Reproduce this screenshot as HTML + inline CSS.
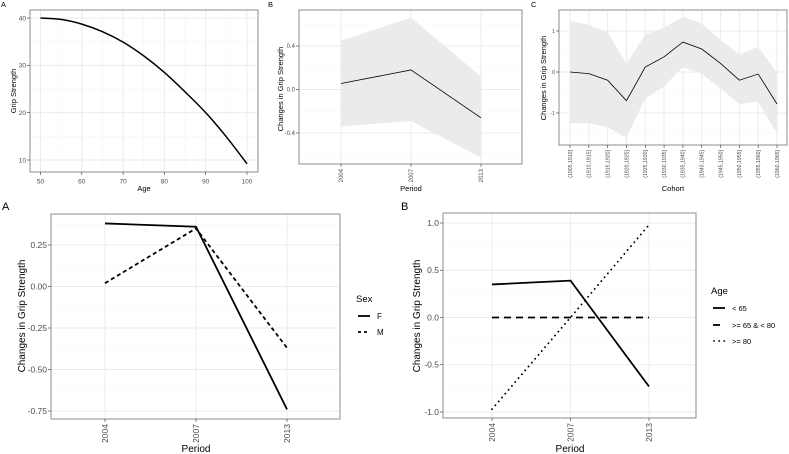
<!DOCTYPE html>
<html><head><meta charset="utf-8">
<style>
html,body{margin:0;padding:0;background:#fff;}
svg{display:block;font-family:"Liberation Sans",sans-serif;}
</style></head>
<body>
<svg id="fig" width="789" height="454" viewBox="0 0 789 454"></svg>
<script>
// ---- data ----
const ageX = [50,55,60,65,70,75,80,85,90,95,100];
const ageGrip = [40,39.7,38.7,37.1,34.9,32.0,28.5,24.4,20.0,14.9,9.2];
const ageTicksX = [50,60,70,80,90,100];
const ageTicksY = [10,20,30,40];

const periods = ["2004","2007","2013"];
const periodMean = [0.055,0.18,-0.26];
const periodLow = [-0.34,-0.29,-0.625];
const periodHigh = [0.45,0.66,0.12];
const periodTicksY = [-0.4,0.0,0.4];
const periodTickLabels = ["-0.4","0.0","0.4"];

const cohorts = ["(1905,1910]","(1910,1915]","(1915,1920]","(1920,1925]","(1925,1930]","(1930,1935]","(1935,1940]","(1940,1945]","(1945,1950]","(1950,1955]","(1955,1960]","(1960,1965]"];
const cohortMean = [0,-0.04,-0.2,-0.7,0.12,0.37,0.73,0.56,0.21,-0.2,-0.05,-0.78];
const cohortHigh = [1.25,1.15,0.97,0.2,0.92,1.08,1.35,1.18,0.78,0.42,0.62,-0.02];
const cohortLow = [-1.25,-1.25,-1.35,-1.6,-0.65,-0.35,0.12,-0.05,-0.4,-0.78,-0.73,-1.5];
const cohortTicksY = [-1,0,1];

const sexF = [0.38,0.36,-0.74];
const sexM = [0.02,0.35,-0.37];
const sexTicksY = [-0.75,-0.5,-0.25,0,0.25];
const sexTickLabels = ["-0.75","-0.50","-0.25","0.00","0.25"];

const ageLt65 = [0.35,0.39,-0.73];
const age65to80 = [0,0,0];
const ageGe80 = [-0.97,0.0,0.98];
const ageGrpTicksY = [-1,-0.5,0,0.5,1];
const ageGrpTickLabels = ["-1.0","-0.5","0.0","0.5","1.0"];

// ---- helpers ----
const NS="http://www.w3.org/2000/svg";
const svg=document.getElementById('fig');
function mk(tag,attrs,parent){const e=document.createElementNS(NS,tag);for(const k in attrs)e.setAttribute(k,attrs[k]);(parent||svg).appendChild(e);return e;}
function lin(d0,d1,r0,r1){return v=>r0+(v-d0)/(d1-d0)*(r1-r0);}
function txt(s,x,y,size,opts,parent){const t=mk('text',Object.assign({x:x,y:y,'font-size':size,fill:'#000'},opts||{}),parent);t.textContent=s;return t;}

function panel(name,box,xs,ys,xticks,xlabels,yticks,ylabels,xminor,yminor,fs,rot){
  const g=mk('g',{});
  
  
  const [x0,y0,x1,y1]=box;
  (xminor||[]).forEach(v=>mk('line',{x1:xs(v),x2:xs(v),y1:y0,y2:y1,stroke:'#f5f5f5','stroke-width':0.6},g));
  (yminor||[]).forEach(v=>mk('line',{x1:x0,x2:x1,y1:ys(v),y2:ys(v),stroke:'#f5f5f5','stroke-width':0.6},g));
  xticks.forEach(v=>mk('line',{x1:xs(v),x2:xs(v),y1:y0,y2:y1,stroke:'#ebebeb','stroke-width':1},g));
  yticks.forEach(v=>mk('line',{x1:x0,x2:x1,y1:ys(v),y2:ys(v),stroke:'#ebebeb','stroke-width':1},g));
  const ax=mk('g',{});
  
  
  xticks.forEach((v,i)=>{
    mk('line',{x1:xs(v),x2:xs(v),y1:y1,y2:y1+3,stroke:'#333','stroke-width':0.6},ax);
    if(rot){txt(xlabels[i],xs(v)+fs*0.35,y1+5,fs,{fill:'#4d4d4d','text-anchor':'end',transform:`rotate(-90 ${xs(v)+fs*0.35} ${y1+5})`},ax);}
    else txt(xlabels[i],xs(v),y1+5+fs,fs,{fill:'#4d4d4d','text-anchor':'middle'},ax);
  });
  yticks.forEach((v,i)=>{
    mk('line',{x1:x0-3,x2:x0,y1:ys(v),y2:ys(v),stroke:'#333','stroke-width':0.6},ax);
    txt(ylabels[i],x0-4,ys(v)+fs*0.35,fs,{fill:'#4d4d4d','text-anchor':'end'},ax);
  });
  return {g,ax,box};
}
function border(p){const [x0,y0,x1,y1]=p.box;mk('rect',{x:x0,y:y0,width:x1-x0,height:y1-y0,fill:'none',stroke:'#8c8c8c','stroke-width':1},p.g);}
function poly(xsArr,ysArr,xs,ys,attrs,parent,name){
  const d=xsArr.map((x,i)=>(i?'L':'M')+xs(x).toFixed(2)+','+ys(ysArr[i]).toFixed(2)).join('');
  const p=mk('path',Object.assign({d:d,fill:'none',stroke:'#000'},attrs),parent);
  
  
  return p;
}
function smooth(xsArr,ysArr,xs,ys,attrs,parent,name){
  const P=xsArr.map((x,i)=>[xs(x),ys(ysArr[i])]);
  let d='M'+P[0][0].toFixed(2)+','+P[0][1].toFixed(2);
  for(let i=0;i<P.length-1;i++){
    const p0=P[i-1]||P[i],p1=P[i],p2=P[i+1],p3=P[i+2]||p2;
    const c1=[p1[0]+(p2[0]-p0[0])/6,p1[1]+(p2[1]-p0[1])/6];
    const c2=[p2[0]-(p3[0]-p1[0])/6,p2[1]-(p3[1]-p1[1])/6];
    d+=`C${c1[0].toFixed(2)},${c1[1].toFixed(2)} ${c2[0].toFixed(2)},${c2[1].toFixed(2)} ${p2[0].toFixed(2)},${p2[1].toFixed(2)}`;
  }
  const p=mk('path',Object.assign({d:d,fill:'none',stroke:'#000'},attrs),parent);
  
  
  return p;
}
function band(idx,lo,hi,xs,ys,parent,name){
  let d='';idx.forEach((x,i)=>d+=(i?'L':'M')+xs(x)+','+ys(hi[i]));
  for(let i=idx.length-1;i>=0;i--)d+='L'+xs(idx[i])+','+ys(lo[i]);
  const p=mk('path',{d:d+'Z',fill:'#ebebeb',stroke:'none'},parent);
  
  
}
function axTitle(s,x,y,size,rot,name){
  const t=txt(s,x,y,size,rot?{'text-anchor':'middle',transform:`rotate(-90 ${x} ${y})`}:{'text-anchor':'middle'});
  
  
}
function label(s,x,y,size,name){const t=txt(s,x,y,size,{});}

// ---- Top A ----
{
  const box=[30,10,258,172];
  const xs=lin(50,100,40.5,247), ys=lin(10,40,160,18);
  const p=panel('age-panel',box,xs,ys,ageTicksX,ageTicksX.map(String),ageTicksY,ageTicksY.map(String),[55,65,75,85,95],[15,25,35],6.5,false);
  smooth(ageX,ageGrip,xs,ys,{'stroke-width':1.5},p.g,'grip-curve');
  border(p);
  axTitle('Age',144,191,7.5,false,'x-axis-title-age');
  axTitle('Grip Strength',16,91,7.5,true,'y-axis-title-grip');
  label('A',1,7,7.5,'panel-label-a-top');
}
// ---- Top B ----
{
  const box=[299,10,522,164];
  const idx=[0,1,2];
  const xs=lin(0,2,341,481), ys=lin(-0.4,0.4,133,46);
  const p=panel('period-panel',box,xs,ys,idx,periods,periodTicksY,periodTickLabels,[],[-0.6,-0.2,0.2,0.6],6,true);
  band(idx,periodLow,periodHigh,xs,ys,p.g,'period-ci-band');
  poly(idx,periodMean,xs,ys,{'stroke-width':0.8},p.g,'period-line');
  border(p);
  axTitle('Period',411,191,7.5,false,'x-axis-title-period');
  axTitle('Changes in Grip Strength',283,89,7.5,true,'y-axis-title-period');
  label('B',268,7,7.5,'panel-label-b-top');
}
// ---- Top C ----
{
  const box=[559,10,787,145];
  const idx=cohorts.map((c,i)=>i);
  const xs=lin(0,11,570,777), ys=lin(-1,1,113,31);
  const p=panel('cohort-panel',box,xs,ys,idx,cohorts,cohortTicksY,cohortTicksY.map(String),[],[-1.5,-0.5,0.5],5.2,true);
  band(idx,cohortLow,cohortHigh,xs,ys,p.g,'cohort-ci-band');
  poly(idx,cohortMean,xs,ys,{'stroke-width':0.8},p.g,'cohort-line');
  border(p);
  axTitle('Cohort',673,191,7.5,false,'x-axis-title-cohort');
  axTitle('Changes in Grip Strength',546,78,7.5,true,'y-axis-title-cohort');
  label('C',531,7,7.5,'panel-label-c-top');
}
// ---- Bottom A ----
{
  const box=[51,214,340,419];
  const idx=[0,1,2];
  const xs=lin(0,2,105,287), ys=lin(-0.75,0.25,411,245);
  const p=panel('sex-panel',box,xs,ys,idx,periods,sexTicksY,sexTickLabels,[],[-0.625,-0.375,-0.125,0.125,0.375],8.5,true);
  poly(idx,sexF,xs,ys,{'stroke-width':1.8},p.g,'line-female');
  poly(idx,sexM,xs,ys,{'stroke-width':1.8,'stroke-dasharray':'4,3'},p.g,'line-male');
  border(p);
  axTitle('Period',196,452,10,false,'x-axis-title-sex');
  axTitle('Changes in Grip Strength',25,316,10,true,'y-axis-title-sex');
  label('A',2,210,11,'panel-label-a-bottom');
  const lg=mk('g',{});
  
  
  txt('Sex',356,302,9.5,{},lg);
  mk('line',{x1:358,x2:370,y1:316,y2:316,stroke:'#000','stroke-width':1.8},lg);
  txt('F',377,319,8,{},lg);
  mk('line',{x1:358,x2:370,y1:332,y2:332,stroke:'#000','stroke-width':1.8,'stroke-dasharray':'3,3'},lg);
  txt('M',377,335,8,{},lg);
}
// ---- Bottom B ----
{
  const box=[443,213,696,418];
  const idx=[0,1,2];
  const xs=lin(0,2,492,649), ys=lin(-1,1,412,223);
  const p=panel('agegroup-panel',box,xs,ys,idx,periods,ageGrpTicksY,ageGrpTickLabels,[],[-0.75,-0.25,0.25,0.75],8.5,true);
  poly(idx,ageLt65,xs,ys,{'stroke-width':1.8},p.g,'line-age-under-65');
  poly(idx,age65to80,xs,ys,{'stroke-width':1.8,'stroke-dasharray':'7,5'},p.g,'line-age-65-80');
  poly(idx,ageGe80,xs,ys,{'stroke-width':1.8,'stroke-dasharray':'0.1,5','stroke-linecap':'round'},p.g,'line-age-80-plus');
  border(p);
  axTitle('Period',570,452,10,false,'x-axis-title-agegroup');
  axTitle('Changes in Grip Strength',420,316,10,true,'y-axis-title-agegroup');
  label('B',401,210,11,'panel-label-b-bottom');
  const lg=mk('g',{});
  
  
  txt('Age',711,294,9.5,{},lg);
  mk('line',{x1:713,x2:725,y1:308,y2:308,stroke:'#000','stroke-width':1.8},lg);
  txt('< 65',732,311,7.5,{},lg);
  mk('line',{x1:713,x2:725,y1:325,y2:325,stroke:'#000','stroke-width':1.8,'stroke-dasharray':'7,5'},lg);
  txt('>= 65 & < 80',732,328,7.5,{},lg);
  mk('line',{x1:714,x2:725,y1:341,y2:341,stroke:'#000','stroke-width':1.8,'stroke-dasharray':'0.1,5','stroke-linecap':'round'},lg);
  txt('>= 80',732,344,7.5,{},lg);
}
</script>
</body></html>
